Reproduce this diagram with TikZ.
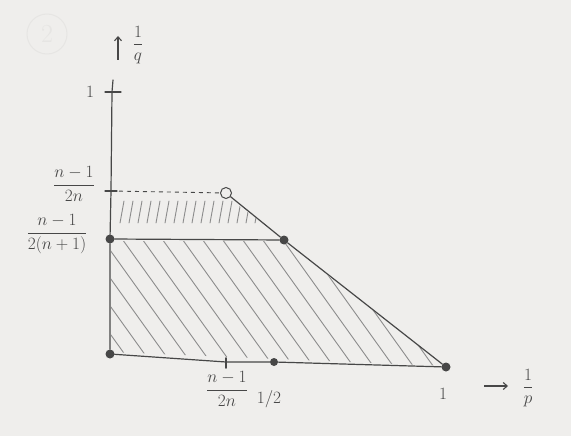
\documentclass[tikz,border=0pt]{standalone}
\usetikzlibrary{arrows.meta}
\definecolor{paper}{HTML}{EFEEEC}
\definecolor{pencilc}{HTML}{474747}
\definecolor{hatchc}{HTML}{8C8C8C}
\definecolor{faintc}{HTML}{E6E5E3}
\begin{document}
\begin{tikzpicture}[x=1pt,y=-1pt,
  pencil/.style={draw=pencilc, line width=1.2pt, line cap=round},
  thin pencil/.style={draw=pencilc, line width=0.9pt},
  dotnode/.style={circle, fill=pencilc, inner sep=0pt, minimum size=9pt},
  opendot/.style={circle, draw=pencilc, fill=paper, line width=1pt, inner sep=0pt, minimum size=11pt},
  hatch/.style={draw=hatchc, line width=0.9pt, line cap=round},
  lbl/.style={text=pencilc, inner sep=1pt, font=\fontsize{17}{19}\selectfont},
  arr/.style={draw=pencilc, line width=1.1pt, -{Straight Barb[length=4pt,width=7pt]}}]
\fill[paper] (0,0) rectangle (571,436);
\useasboundingbox (0,0) rectangle (571,436);
% faint corner mark
\node[circle, draw=faintc, text=faintc, line width=1pt, minimum size=40pt, font=\fontsize{26}{28}\selectfont] (mark) at (47,34) {2};
% hatching lower region
\begin{scope}
  \clip (111,352) -- (111,241) -- (283,241) -- (445,366) -- cycle;
  \foreach \i in {0,...,22} \draw[hatch] ({40+20*\i},236) -- ++(96,134);
\end{scope}
% hatching upper region
\begin{scope}
  \clip (112,196) -- (226,196) -- (283,238) -- (112,236) -- cycle;
  \foreach \i in {0,...,16} \draw[hatch] ({124+9*\i},201) -- ++(-4,22);
\end{scope}
% key points
\node[dotnode] (O) at (110,354) {};
\node[dotnode] (Y2) at (110,239) {};
\node[dotnode] (B) at (284,240) {};
\node[dotnode] (X1) at (446,367) {};
\node[dotnode, minimum size=8pt] (Xh) at (274,362) {};
\node[opendot] (C) at (226,193) {};
\coordinate (Ytop) at (113,80);
\coordinate (Y1) at (112,92);
\coordinate (Yn) at (111,191);
\coordinate (Xn) at (226,362);
% axes
\draw[pencil] (O) -- (Y2) -- (Yn) -- (Y1) -- (Ytop);
\draw[pencil] (O) -- (Xn) -- (Xh) -- (X1);
% boundary
\draw[pencil] (Y2) -- (B);
\draw[pencil] (C) -- (B) -- (X1);
\draw[thin pencil, dashed, dash pattern=on 4pt off 4pt] (Yn) -- (C);
% ticks
\draw[pencil] ([xshift=-7pt]Y1) -- ([xshift=9pt]Y1);
\draw[pencil] ([xshift=-6pt]Yn) -- ([xshift=6pt]Yn);
\draw[pencil, line width=1.6pt] ([yshift=-6pt]Xn) -- ([yshift=4pt]Xn);
\draw[pencil, line width=1.6pt] (Xh) -- ([yshift=10pt]Xh);
\draw[pencil] (X1) -- ([yshift=12pt]X1);
% labels
\node[lbl] (l1) at (90,92) {$1$};
\node[lbl] (lyn) at (74,184) {$\displaystyle\frac{n-1}{2n}$};
\node[lbl] (ly2) at (57,234) {$\displaystyle\frac{n-1}{2(n+1)}$};
\node[lbl] (lxn) at (227,389) {$\displaystyle\frac{n-1}{2n}$};
\node[lbl] (lxh) at (269,399) {$1/2$};
\node[lbl] (lx1) at (443,394) {$1$};
\node[lbl] (lq) at (138,45) {$\displaystyle\frac{1}{q}$};
\node[lbl] (lp) at (528,388) {$\displaystyle\frac{1}{p}$};
% arrows
\coordinate (ua1) at (118,60);
\coordinate (ua2) at (118,36);
\draw[arr] (ua1) -- (ua2);
\coordinate (ra1) at (484,386);
\coordinate (ra2) at (508,386);
\draw[arr] (ra1) -- (ra2);
\end{tikzpicture}
\end{document}
